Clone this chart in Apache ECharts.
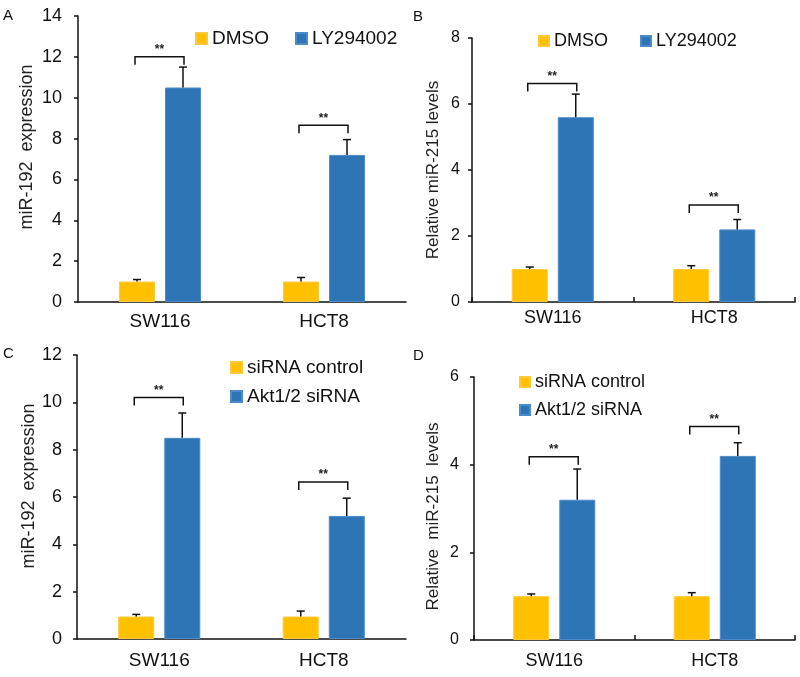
<!DOCTYPE html>
<html>
<head>
<meta charset="utf-8">
<script src="https://cdn.jsdelivr.net/npm/echarts@6/dist/echarts.min.js"></script>
<style>
  html, body { margin: 0; padding: 0; background: #fff; }
  #main { width: 800px; height: 677px; }
</style>
</head>
<body>
<div id="main"></div>
<script>
// data
var categories = ['SW116', 'HCT8'];

// A: miR-192, DMSO vs LY294002
var aDmso = [1.0, 1.0];
var aDmsoErr = [1.1, 1.2];
var aLy = [10.5, 7.2];
var aLyErr = [11.5, 7.95];
var aSig = [12.0, 8.65];

// B: miR-215, DMSO vs LY294002
var bDmso = [1.0, 1.0];
var bDmsoErr = [1.06, 1.1];
var bLy = [5.6, 2.2];
var bLyErr = [6.3, 2.5];
var bSig = [6.62, 2.94];

// C: miR-192, siRNA control vs Akt1/2 siRNA
var cCtrl = [0.95, 0.95];
var cCtrlErr = [1.04, 1.18];
var cAkt = [8.5, 5.2];
var cAktErr = [9.55, 5.95];
var cSig = [10.2, 6.63];

// D: miR-215, siRNA control vs Akt1/2 siRNA
var dCtrl = [1.0, 1.0];
var dCtrlErr = [1.05, 1.08];
var dAkt = [3.2, 4.2];
var dAktErr = [3.9, 4.5];
var dSig = [4.18, 4.87];

var yTicksA = [0, 14, 2];
var yTicksB = [0, 8, 2];
var yTicksC = [0, 12, 2];
var yTicksD = [0, 6, 2];

var FONT = '"Liberation Sans", Arial, sans-serif';
var YELLOW = '#FFC000';
var BLUE = '#2E75B6';
var BAR_W = 36;
var OFF = 23; // half bar + half gap

var myChart = echarts.init(document.getElementById('main'));

function errData(vals, errs) {
    return vals.map(function (v, i) { return [i, v, errs[i]]; });
}
function sigData(vals) {
    return vals.map(function (v, i) { return [i, v]; });
}

function errSeries(idx, vals, errs, offset) {
    return {
        type: 'custom',
        xAxisIndex: idx,
        yAxisIndex: idx,
        z: 5,
        silent: true,
        data: errData(vals, errs),
        encode: { x: 0, y: [1, 2] },
        renderItem: function (params, api) {
            var p0 = api.coord([api.value(0), api.value(1)]);
            var p1 = api.coord([api.value(0), api.value(2)]);
            var x = p0[0] + offset;
            var st = { stroke: '#111', lineWidth: 1.5 };
            return {
                type: 'group',
                children: [
                    { type: 'line', shape: { x1: x, y1: p0[1], x2: x, y2: p1[1] }, style: st },
                    { type: 'line', shape: { x1: x - 4, y1: p1[1], x2: x + 4, y2: p1[1] }, style: st }
                ]
            };
        }
    };
}

function sigSeries(idx, vals) {
    return {
        type: 'custom',
        xAxisIndex: idx,
        yAxisIndex: idx,
        z: 5,
        silent: true,
        data: sigData(vals),
        encode: { x: 0, y: 1 },
        renderItem: function (params, api) {
            var p = api.coord([api.value(0), api.value(1)]);
            var x0 = p[0] - OFF - 2, x1 = p[0] + OFF + 1, y = p[1];
            return {
                type: 'group',
                children: [
                    {
                        type: 'polyline',
                        shape: { points: [[x0, y + 8], [x0, y], [x1, y], [x1, y + 8]] },
                        style: { stroke: '#111', lineWidth: 1.5, fill: null }
                    },
                    {
                        type: 'text',
                        style: {
                            text: '**', x: (x0 + x1) / 2, y: y - 1,
                            align: 'center', verticalAlign: 'bottom',
                            font: 'bold 12px ' + FONT, fill: '#222'
                        }
                    }
                ]
            };
        }
    };
}

function barSeries(idx, name, vals, color, border) {
    return {
        type: 'bar',
        name: name,
        xAxisIndex: idx,
        yAxisIndex: idx,
        data: vals,
        barWidth: BAR_W,
        barGap: '28%',
        itemStyle: { color: color, borderColor: border, borderWidth: 1 }
    };
}

function xAx(idx, margin, fs, tickInside) {
    return {
        type: 'category',
        gridIndex: idx,
        data: categories,
        axisLine: { lineStyle: { color: '#111', width: 1.5 } },
        axisTick: { show: tickInside, inside: true, length: 5, lineStyle: { color: '#111', width: 1.5 } },
        axisLabel: { color: '#111', fontSize: fs, fontFamily: FONT, margin: margin }
    };
}

function yAx(idx, ticks, name, gap, fs, margin, nameFs, pad) {
    return {
        type: 'value',
        gridIndex: idx,
        min: ticks[0],
        max: ticks[1],
        interval: ticks[2],
        name: name,
        nameLocation: 'middle',
        nameGap: gap,
        nameTextStyle: { color: '#222', fontSize: nameFs, fontFamily: FONT, padding: pad },
        splitLine: { show: false },
        axisLine: { show: true, lineStyle: { color: '#111', width: 1.5 } },
        axisTick: { show: true, length: 4, lineStyle: { color: '#111', width: 1.5 } },
        axisLabel: { color: '#111', fontSize: fs, fontFamily: FONT, margin: margin }
    };
}

function legendOf(names, left, top, orient, gap, size, fs) {
    return {
        data: names, left: left, top: top, orient: orient, itemGap: gap, padding: 0,
        icon: 'rect', itemWidth: size, itemHeight: size,
        textStyle: { fontSize: fs, color: '#111', fontFamily: FONT }
    };
}

function panelLabel(txt, x, y) {
    return {
        type: 'text', left: x, top: y,
        style: { text: txt, font: '15px ' + FONT, fill: '#111' }
    };
}

var option = {
    animation: false,
    backgroundColor: '#fff',
    textStyle: { fontFamily: FONT },
    grid: [
        { left: 78, top: 16, width: 328, height: 286 },
        { left: 472, top: 38, width: 323, height: 264 },
        { left: 77, top: 355, width: 329, height: 284 },
        { left: 474, top: 377, width: 321, height: 263 }
    ],
    legend: [
        legendOf(['DMSO', 'LY294002'], 195, 29, 'horizontal', 26, 11, 19),
        legendOf(['DMSO', 'LY294002'], 538, 32, 'horizontal', 32, 10, 18),
        legendOf(['siRNA control', 'Akt1/2 siRNA'], 230, 358, 'vertical', 10, 11, 19),
        legendOf(['siRNA control', 'Akt1/2 siRNA'], 519, 373, 'vertical', 10, 10, 18)
    ],
    xAxis: [
        xAx(0, 10, 19, false),
        xAx(1, 7, 18, true),
        xAx(2, 12, 19, false),
        xAx(3, 12, 18, true)
    ],
    yAxis: [
        yAx(0, yTicksA, 'miR-192  expression', 42, 18, 16, 18, [0, 0, 0, 24]),
        yAx(1, yTicksB, 'Relative miR-215 levels', 30, 16, 12, 17, 0),
        yAx(2, yTicksC, 'miR-192  expression', 39, 18, 15, 18, [0, 0, 0, 22]),
        yAx(3, yTicksD, 'Relative  miR-215  levels', 32, 16, 15, 17, [0, 16, 0, 0])
    ],
    graphic: [
        panelLabel('A', 3, 8),
        panelLabel('B', 413, 9),
        panelLabel('C', 3, 346),
        panelLabel('D', 413, 348)
    ],
    series: [
        barSeries(0, 'DMSO', aDmso, YELLOW, '#FFC83A'),
        barSeries(0, 'LY294002', aLy, BLUE, '#4C8BC9'),
        errSeries(0, aDmso, aDmsoErr, -OFF),
        errSeries(0, aLy, aLyErr, OFF),
        sigSeries(0, aSig),

        barSeries(1, 'DMSO', bDmso, YELLOW, '#FFC83A'),
        barSeries(1, 'LY294002', bLy, BLUE, '#4C8BC9'),
        errSeries(1, bDmso, bDmsoErr, -OFF),
        errSeries(1, bLy, bLyErr, OFF),
        sigSeries(1, bSig),

        barSeries(2, 'siRNA control', cCtrl, YELLOW, '#FFC83A'),
        barSeries(2, 'Akt1/2 siRNA', cAkt, BLUE, '#4C8BC9'),
        errSeries(2, cCtrl, cCtrlErr, -OFF),
        errSeries(2, cAkt, cAktErr, OFF),
        sigSeries(2, cSig),

        barSeries(3, 'siRNA control', dCtrl, YELLOW, '#FFC83A'),
        barSeries(3, 'Akt1/2 siRNA', dAkt, BLUE, '#4C8BC9'),
        errSeries(3, dCtrl, dCtrlErr, -OFF),
        errSeries(3, dAkt, dAktErr, OFF),
        sigSeries(3, dSig)
    ]
};

myChart.setOption(option);
</script>
</body>
</html>
